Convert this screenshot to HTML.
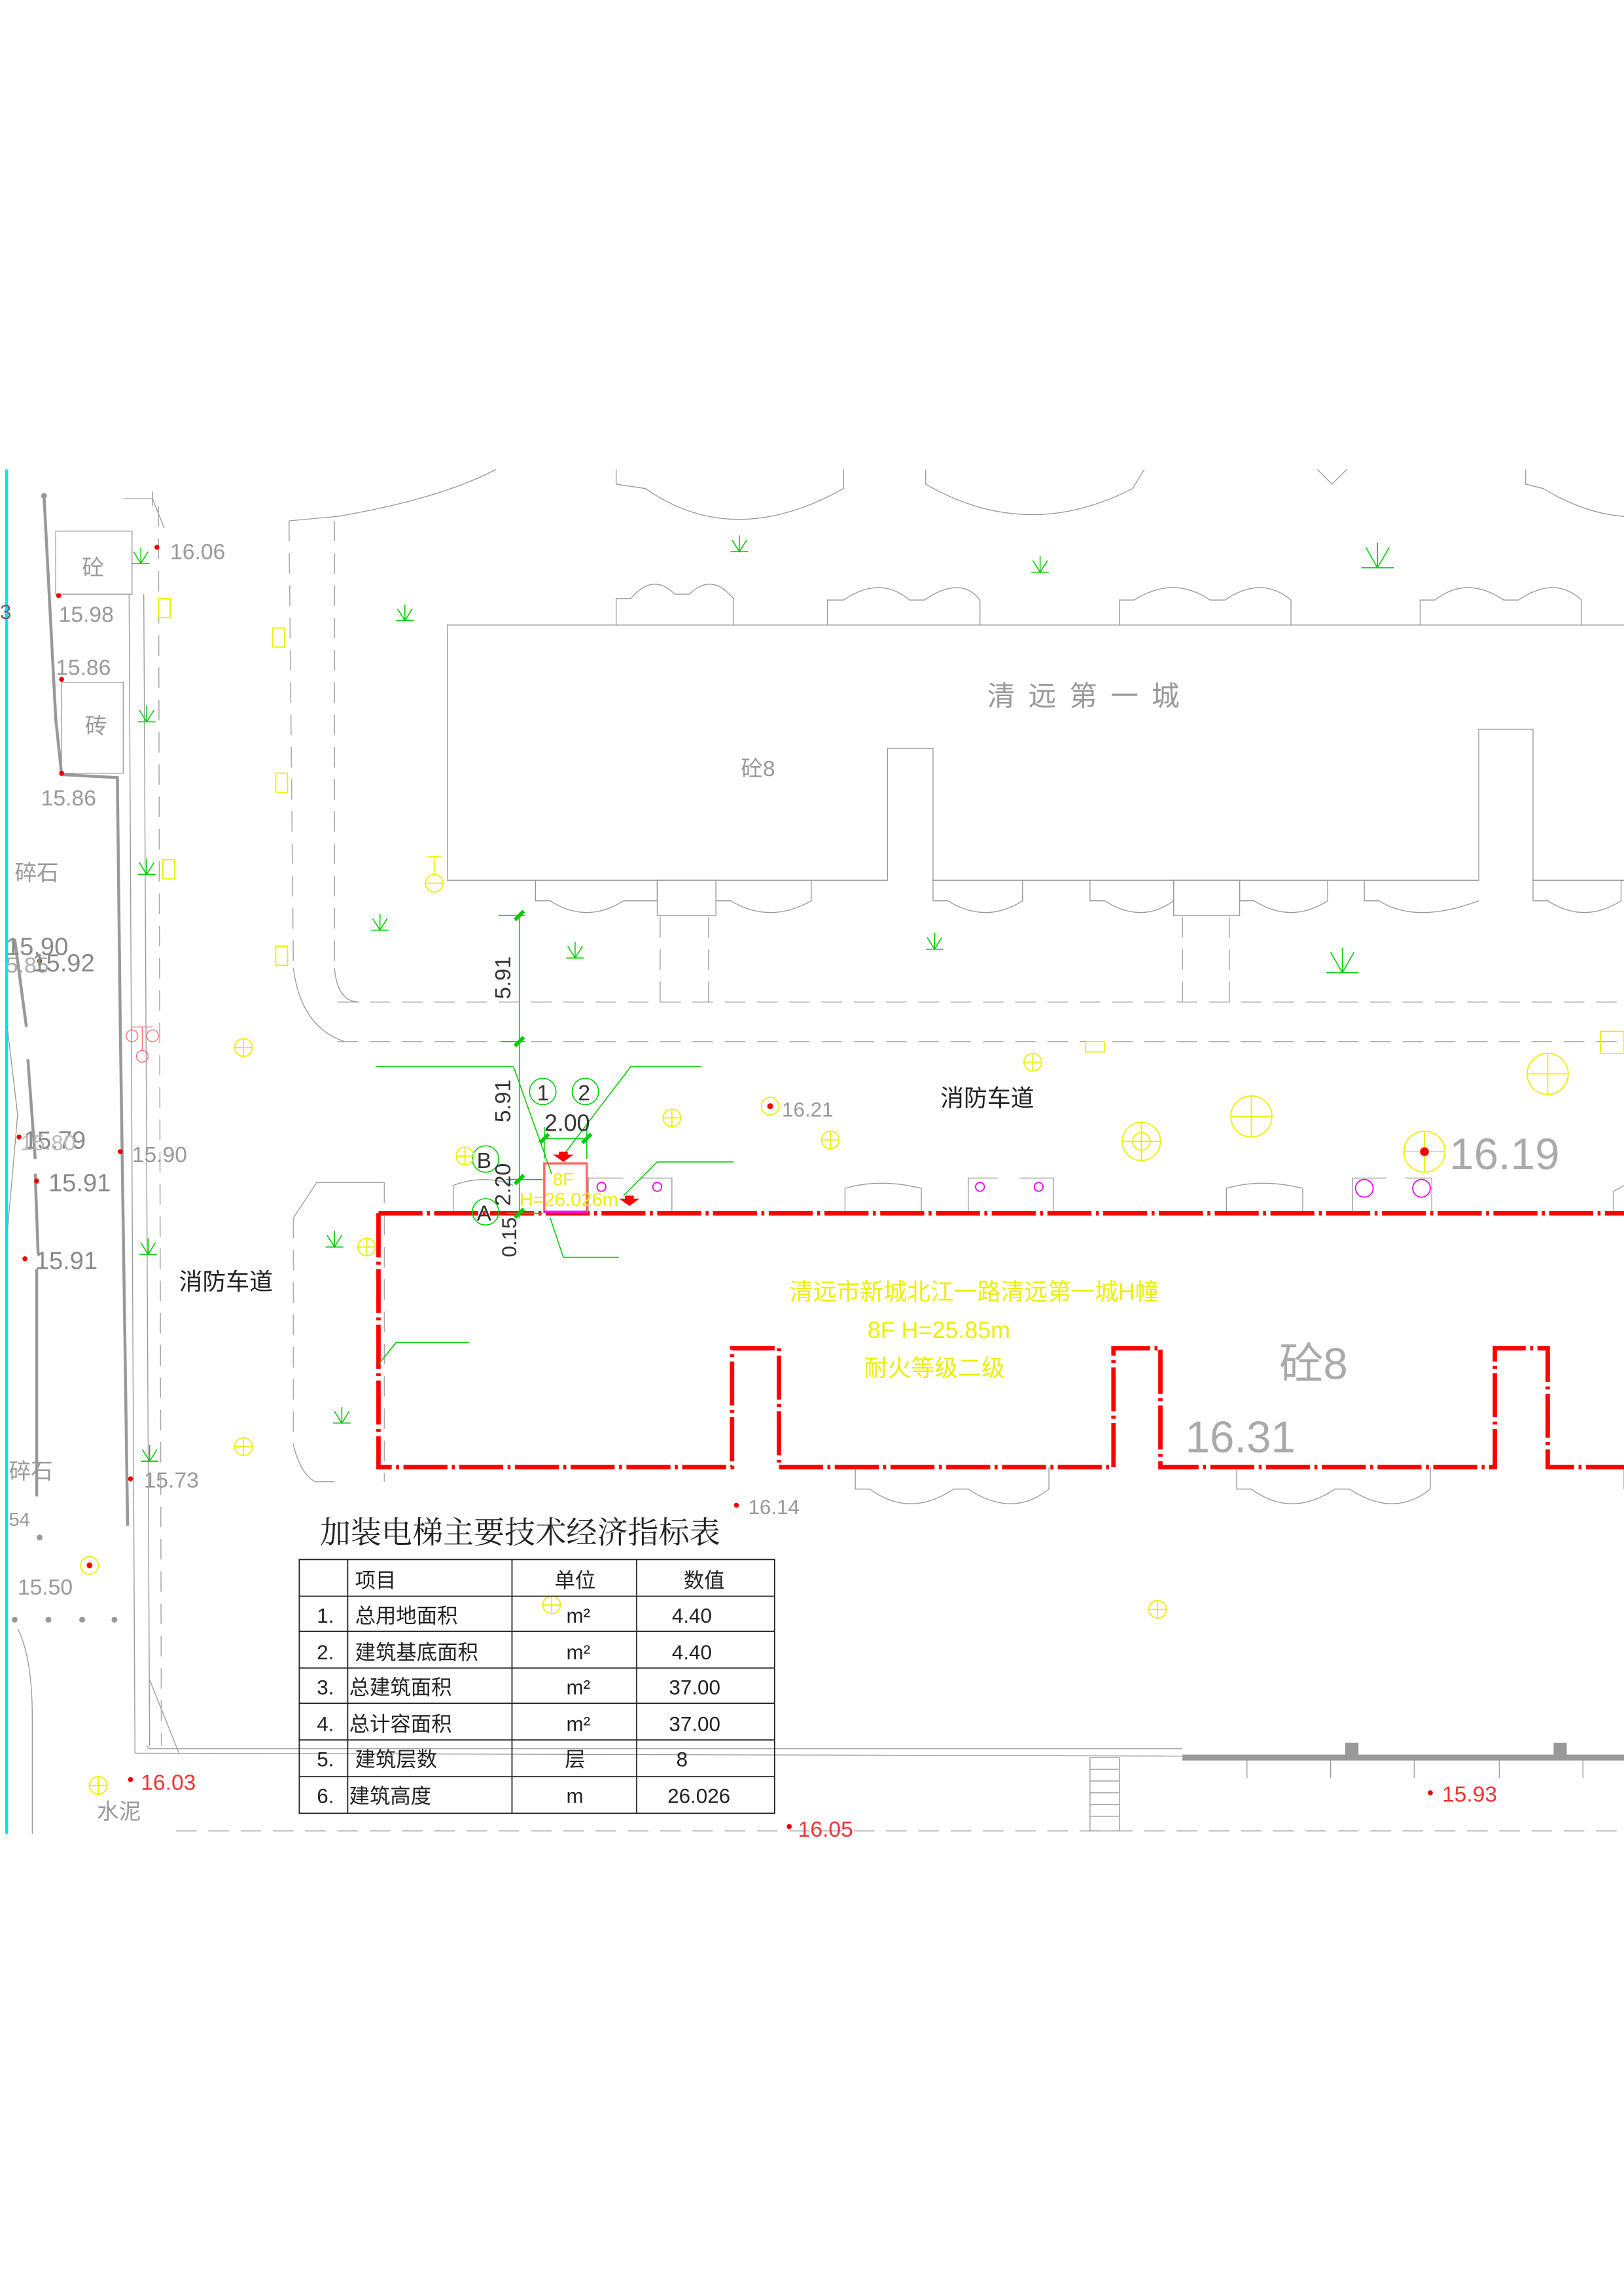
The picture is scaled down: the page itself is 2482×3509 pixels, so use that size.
<!DOCTYPE html>
<html><head><meta charset="utf-8"><style>
html,body{margin:0;padding:0;background:#fff;}
svg{display:block;}
text{font-family:"Liberation Sans","Noto Sans CJK SC",sans-serif;}
.cn{font-family:"Liberation Serif","Noto Serif CJK SC","Noto Sans CJK SC",serif;}
</style></head><body>
<svg width="2482" height="3509" viewBox="0 0 1107 1565" xmlns="http://www.w3.org/2000/svg">
<rect width="1107" height="1565" fill="#fff"/>
<!-- cyan line -->
<line x1="4.5" y1="320" x2="4.5" y2="1250" stroke="#00e5ee" stroke-width="2"/>
<text x="0" y="422" font-size="14" fill="#666">3</text>

<!-- left property lines thick gray -->
<g stroke="#999" stroke-width="2" fill="none">
<polyline points="30,338 38,490 42,528 80,530 82,700 87,1040"/>
<line x1="10" y1="640" x2="18" y2="700"/>
<line x1="19" y1="722" x2="24" y2="790"/>
<line x1="24" y1="800" x2="26" y2="855"/>
<line x1="25" y1="865" x2="25" y2="1020"/>
</g>
<circle cx="30" cy="338" r="2" fill="#999"/>
<g fill="#999"><circle cx="27" cy="1048" r="2"/><circle cx="10" cy="1104" r="2"/><circle cx="33" cy="1104" r="2"/><circle cx="56" cy="1104" r="2"/><circle cx="78" cy="1104" r="2"/></g>
<!-- thin gray lines left -->
<g stroke="#999" stroke-width="0.6" fill="none">
<rect x="38" y="362" width="52" height="43"/>
<rect x="42" y="465" width="42" height="62"/>
<line x1="88" y1="405" x2="92" y2="1195"/>
<line x1="98" y1="405" x2="102" y2="1190"/>
<polyline points="84,340 104,340 112,360"/>
<line x1="104" y1="335" x2="104" y2="345"/>
<polyline points="100,1190 102,1192 806,1192"/>
<polyline points="92,1195 806,1197"/>
<path d="M12,1110 Q22,1130 22,1170 L22,1250"/>
<path d="M5,700 L12,760 L5,840"/>
<line x1="102" y1="1145" x2="122" y2="1195"/>
</g>
<g stroke="#aaa" stroke-width="0.7" fill="none" stroke-dasharray="14,8">
<line x1="108" y1="345" x2="110" y2="1190"/>
<line x1="197" y1="355" x2="200" y2="660"/>
<line x1="228" y1="355" x2="228" y2="660"/>
<line x1="120" y1="1248" x2="1107" y2="1248"/>
<line x1="230" y1="683" x2="1107" y2="683"/>
<line x1="230" y1="710" x2="1107" y2="710"/>
<line x1="200" y1="830" x2="200" y2="985"/>
<line x1="262" y1="806" x2="262" y2="1010"/>
<line x1="450" y1="625" x2="450" y2="683"/>
<line x1="483" y1="625" x2="483" y2="683"/>
<line x1="806" y1="625" x2="806" y2="683"/>
<line x1="838" y1="625" x2="838" y2="683"/>
</g>
<g stroke="#999" stroke-width="0.6" fill="none">
<path d="M200,660 Q205,700 235,710"/>
<path d="M228,660 Q230,683 245,683"/>
<path d="M200,985 Q205,1005 215,1010 L228,1010"/>
<path d="M200,830 L216,806 L262,806"/>
<!-- top arcs -->
<path d="M197,355 L230,352 Q300,340 338,320"/>
<path d="M420,320 L420,330 L440,333 Q500,375 575,333 L575,320"/>
<path d="M631,320 L631,330 Q700,370 772,333 L780,320"/>
<path d="M898,320 L908,330 L918,320"/>
<path d="M1040,320 L1040,330 L1052,333 Q1080,350 1107,352"/>
<!-- top building -->
<polyline points="1107,426 305,426 305,600 605,600 605,510 636,510 636,600 1008,600 1008,497 1045,497 1045,600 1107,600"/>
<path d="M420,426 L420,408 L430,408 Q445,390 460,405 L470,405 Q485,390 500,408 L500,426"/>
<path d="M564,426 L564,409 L575,409 Q600,392 620,409 L630,409 Q655,392 668,409 L668,426"/>
<path d="M763,426 L763,409 L773,409 Q800,392 825,409 L835,409 Q860,392 880,409 L880,426"/>
<path d="M968,426 L968,409 L978,409 Q1000,392 1025,409 L1035,409 Q1060,392 1078,409 L1078,426"/>
<path d="M365,600 L365,614 L375,614 Q400,630 425,614 L448,614 L448,600"/>
<rect x="448" y="600" width="40" height="24"/>
<path d="M488,600 L488,614 L498,614 Q525,630 553,614 L553,600"/>
<path d="M636,600 L636,614 L646,614 Q672,630 697,614 L697,600"/>
<path d="M743,600 L743,614 L753,614 Q778,630 800,614 L800,600"/>
<rect x="800" y="600" width="45" height="24"/>
<path d="M845,600 L845,614 L855,614 Q880,630 905,614 L905,600"/>
<path d="M930,600 L930,614 L940,614 Q965,630 1008,614"/>
<path d="M1045,600 L1045,614 L1055,614 Q1080,630 1105,614 L1105,600"/>
<!-- small structures near red building -->
<path d="M309,827 L309,808 Q330,800 350,808"/>
<polyline points="401,827 401,803 425,803"/><polyline points="436,803 458,803 458,827"/>
<path d="M576,827 L576,810 Q600,803 628,810 L628,827"/>
<polyline points="660,827 660,803 680,803"/><polyline points="695,803 718,803 718,827"/>
<path d="M836,827 L836,810 Q860,803 888,810 L888,827"/>
<polyline points="922,827 922,803 945,803"/><polyline points="958,803 976,803 976,827"/>
<path d="M1100,827 L1100,812 L1107,808"/>
<path d="M583,1000 L583,1015 L593,1015 Q620,1035 650,1015 L660,1015 Q690,1035 715,1015 L715,1000"/>
<path d="M843,1000 L843,1015 L853,1015 Q880,1035 910,1015 L920,1015 Q950,1035 975,1015 L975,1000"/>
<line x1="1107" y1="1000" x2="1107" y2="1015"/>
<!-- stairs at bottom -->
<rect x="743" y="1198" width="20" height="50"/>
<line x1="743" y1="1206" x2="763" y2="1206"/><line x1="743" y1="1214" x2="763" y2="1214"/><line x1="743" y1="1222" x2="763" y2="1222"/><line x1="743" y1="1230" x2="763" y2="1230"/><line x1="743" y1="1238" x2="763" y2="1238"/>
<line x1="850" y1="1200" x2="850" y2="1212"/><line x1="907" y1="1200" x2="907" y2="1212"/><line x1="964" y1="1200" x2="964" y2="1212"/><line x1="1022" y1="1200" x2="1022" y2="1212"/><line x1="1079" y1="1200" x2="1079" y2="1212"/>
</g>
<line x1="806" y1="1198" x2="1107" y2="1198" stroke="#999" stroke-width="4"/>
<rect x="917" y="1188" width="9" height="10" fill="#999"/><rect x="1059" y="1188" width="9" height="10" fill="#999"/>

<!-- red building -->
<g stroke="#f00" stroke-width="3" fill="none" stroke-dasharray="30,3,2,3">
<polyline points="258,827 1107,827"/>
<polyline points="258,827 258,1000 499,1000 499,919 531,919 531,1000 759,1000 759,919 791,919 791,1000 1019,1000 1019,919 1055,919 1055,1000 1107,1000"/>
</g>

<!-- green dims -->
<g stroke="#0c0" stroke-width="0.7" fill="none">
<line x1="354" y1="624" x2="354" y2="830"/>
<line x1="340" y1="624" x2="358" y2="624"/><line x1="342" y1="710" x2="358" y2="710"/>
<line x1="256" y1="727" x2="350" y2="727"/><polyline points="350,727 376,800"/>
<polyline points="478,727 430,727 382,790"/>
<line x1="371" y1="768" x2="371" y2="790"/><line x1="400" y1="768" x2="400" y2="790"/>
<line x1="371" y1="776" x2="400" y2="776"/>
<line x1="345" y1="804" x2="370" y2="804"/><line x1="345" y1="827" x2="370" y2="827"/>
<polyline points="500,792 448,792 425,815"/>
<polyline points="375,830 384,857 422,857"/>
<polyline points="258,930 270,915 320,915"/>
<circle cx="370" cy="744" r="9"/><circle cx="399" cy="744" r="9"/>
<circle cx="331" cy="790" r="9"/><circle cx="331" cy="826" r="9"/>
</g>
<g stroke="#0c0" stroke-width="2.5"><line x1="351" y1="627" x2="357" y2="621"/><line x1="351" y1="713" x2="357" y2="707"/><line x1="351" y1="807" x2="357" y2="801"/><line x1="351" y1="830" x2="357" y2="824"/><line x1="368" y1="779" x2="374" y2="773"/><line x1="397" y1="779" x2="403" y2="773"/></g>
<g font-size="14" fill="#333" font-family="Liberation Serif,serif">
<text x="366" y="750" class="" font-family="Liberation Serif" font-size="15">1</text>
<text x="394" y="750" font-family="Liberation Serif" font-size="15">2</text>
<text x="325" y="796" font-family="Liberation Serif" font-size="15">B</text>
<text x="325" y="832" font-family="Liberation Serif" font-size="15">A</text>
<text x="371" y="771" font-family="Liberation Serif" font-size="16">2.00</text>
<text transform="translate(348,681) rotate(-90)" font-size="15">5.91</text>
<text transform="translate(348,765) rotate(-90)" font-size="15">5.91</text>
<text transform="translate(348,822) rotate(-90)" font-size="15">2.20</text>
<text transform="translate(352,857) rotate(-90)" font-size="14">0.15</text>
</g>
<!-- elevator -->
<rect x="371" y="793" width="29" height="33" fill="none" stroke="#f66" stroke-width="1.5"/>
<line x1="371" y1="826" x2="400" y2="826" stroke="#f0f" stroke-width="1.5"/>
<path d="M377,787 L391,787 L384,792Z M381,785 L387,785 L387,787 L381,787Z" fill="#f00"/>
<path d="M422,817 L436,817 L429,822Z M426,815 L432,815 L432,817 L426,817Z" fill="#f00"/>
<text x="377" y="808" font-size="12" fill="#ee0" font-family="Liberation Serif">8F</text>
<text x="354" y="822" font-size="13" fill="#ee0" font-family="Liberation Serif">H=26.026m</text>
<g stroke="#e0e" stroke-width="0.8" fill="none">
<circle cx="410" cy="809" r="3"/><circle cx="448" cy="809" r="3"/>
<circle cx="668" cy="809" r="3"/><circle cx="708" cy="809" r="3"/>
<circle cx="930" cy="810" r="6"/><circle cx="969" cy="810" r="6"/>
</g>

<!-- yellow symbols -->
<g stroke="#ee0" stroke-width="0.8" fill="none">
<circle cx="166" cy="714" r="6"/><path d="M160,714h12M166,708v12"/>
<circle cx="166" cy="986" r="6"/><path d="M160,986h12M166,980v12"/>
<circle cx="458" cy="762" r="6"/><path d="M452,762h12M458,756v12"/>
<circle cx="566" cy="777" r="6"/><path d="M560,777h12M566,771v12"/>
<circle cx="704" cy="724" r="6"/><path d="M698,724h12M704,718v12"/>
<circle cx="789" cy="1097" r="6"/><path d="M783,1097h12M789,1091v12"/>
<circle cx="376" cy="1094" r="6"/><path d="M370,1094h12M376,1088v12"/>
<circle cx="317" cy="788" r="6"/><path d="M311,788h12M317,782v12"/>
<circle cx="250" cy="850" r="6"/><path d="M244,850h12M250,844v12"/>
<circle cx="61" cy="1067" r="6"/><circle cx="67" cy="1217" r="6"/><path d="M61,1217h12M67,1211v12"/>
<circle cx="525" cy="754" r="6"/>
<circle cx="778" cy="778" r="13"/><circle cx="778" cy="778" r="6"/><path d="M765,778h26M778,765v26"/>
<circle cx="853" cy="761" r="14"/><path d="M839,761h28M853,747v28"/>
<circle cx="1055" cy="732" r="14"/><path d="M1041,732h28M1055,718v28"/>
<circle cx="971" cy="785" r="14"/><path d="M957,785h28M971,771v28"/>
<circle cx="296" cy="602" r="6"/><path d="M290,602h12M296,584v12M291,584h10"/>
<rect x="108" y="408" width="8" height="13"/><rect x="186" y="428" width="8" height="13"/><rect x="188" y="527" width="8" height="13"/><rect x="111" y="586" width="8" height="13"/><rect x="188" y="645" width="8" height="13"/>
<rect x="740" y="710" width="13" height="7"/><rect x="1091" y="703" width="16" height="15"/>
</g>
<circle cx="971" cy="785" r="3" fill="#f00"/><circle cx="525" cy="754" r="2" fill="#f00"/><circle cx="61" cy="1067" r="2" fill="#f00"/>
<!-- red pins -->
<g stroke="#f66" stroke-width="0.6" fill="none"><circle cx="90" cy="706" r="4"/><circle cx="104" cy="706" r="4"/><circle cx="97" cy="720" r="4"/><path d="M97,700v16M90,700h14"/></g>
<g fill="#e00"><circle cx="107" cy="373" r="1.7"/><circle cx="40" cy="406" r="1.7"/><circle cx="42" cy="463" r="1.7"/><circle cx="42" cy="527" r="1.7"/><circle cx="13" cy="775" r="1.7"/><circle cx="82" cy="785" r="1.7"/><circle cx="25" cy="805" r="1.7"/><circle cx="17" cy="858" r="1.7"/><circle cx="89" cy="1008" r="1.7"/><circle cx="89" cy="1213" r="1.7"/><circle cx="502" cy="1026" r="1.7"/><circle cx="975" cy="1222" r="1.7"/><circle cx="538" cy="1245" r="1.7"/><circle cx="27" cy="655" r="1.7"/></g>

<!-- green grass -->
<g stroke="#0c0" stroke-width="0.7" fill="none">
<path d="M90,384h12M96,373v11M91,376l5,8l5,-8"/>
<path d="M94,492h12M100,481v11M95,484l5,8l5,-8"/>
<path d="M94,596h12M100,585v11M95,588l5,8l5,-8"/>
<path d="M95,855h12M101,844v11M96,847l5,8l5,-8"/>
<path d="M96,996h12M102,985v11M97,988l5,8l5,-8"/>
<path d="M270,423h12M276,412v11M271,415l5,8l5,-8"/>
<path d="M498,376h12M504,365v11M499,368l5,8l5,-8"/>
<path d="M703,390h12M709,379v11M704,382l5,8l5,-8"/>
<path d="M928,387h22M939,370v17M931,373l8,14l8,-14"/>
<path d="M253,634h12M259,623v11M254,626l5,8l5,-8"/>
<path d="M386,653h12M392,642v11M387,645l5,8l5,-8"/>
<path d="M631,647h12M637,636v11M632,639l5,8l5,-8"/>
<path d="M904,663h22M915,646v17M907,649l8,14l8,-14"/>
<path d="M222,850h12M228,839v11M223,842l5,8l5,-8"/>
<path d="M227,970h12M233,959v11M228,962l5,8l5,-8"/>
</g>

<!-- gray labels -->
<g fill="#999" font-size="15">
<text x="116" y="381">16.06</text>
<text x="40" y="424">15.98</text>
<text x="38" y="460">15.86</text>
<text x="28" y="549">15.86</text>
<text x="90" y="792">15.90</text>
<text x="98" y="1014">15.73</text>
<text x="12" y="1087">15.50</text>
<text x="6" y="1040" font-size="13">54</text>
<text x="510" y="1032" font-size="14">16.14</text>
<text x="533" y="761" font-size="14">16.21</text>
<text x="988" y="797" font-size="30" fill="#aaa">16.19</text>
<text x="808" y="990" font-size="30" fill="#aaa">16.31</text>
</g>
<g fill="#888" font-size="17" font-weight="normal">
<text x="4" y="651">15.90</text><text x="4" y="663" font-size="15" fill="#aaa">5.85</text><text x="22" y="662">15.92</text>
<text x="16" y="783">15.79</text><text x="14" y="784" fill="#bbb" font-size="15">15.80</text>
<text x="33" y="812">15.91</text>
<text x="24" y="865">15.91</text>
</g>
<g fill="#e33" font-size="15"><text x="96" y="1220">16.03</text><text x="983" y="1228">15.93</text><text x="544" y="1252">16.05</text></g>
<g class="cn" fill="#999" font-size="15">
<text x="56" y="392">砼</text><text x="58" y="500">砖</text>
<text x="10" y="600">碎石</text><text x="6" y="1008">碎石</text>
<text x="66" y="1240">水泥</text>
<text x="505" y="529">砼8</text>
<text x="673" y="481" font-size="19" letter-spacing="9">清远第一城</text>
<text x="872" y="940" font-size="30" fill="#aaa">砼8</text>
</g>
<g class="cn" fill="#222" font-size="16">
<text x="641" y="754">消防车道</text><text x="122" y="879">消防车道</text>
</g>
<g class="cn" fill="#ee0" font-size="16" text-anchor="middle">
<text x="664" y="886">清远市新城北江一路清远第一城H幢</text>
<text x="640" y="912" font-family="Liberation Serif">8F H=25.85m</text>
<text x="637" y="938">耐火等级二级</text>
</g>

<!-- table -->
<text x="218" y="1052" class="cn" font-size="21" fill="#222">加装电梯主要技术经济指标表</text>
<g stroke="#222" stroke-width="0.8" fill="none">
<rect x="204" y="1063" width="324" height="173"/>
<line x1="204" y1="1088" x2="528" y2="1088"/><line x1="204" y1="1112" x2="528" y2="1112"/><line x1="204" y1="1137" x2="528" y2="1137"/><line x1="204" y1="1161" x2="528" y2="1161"/><line x1="204" y1="1186" x2="528" y2="1186"/><line x1="204" y1="1211" x2="528" y2="1211"/>
<line x1="237" y1="1063" x2="237" y2="1236"/><line x1="349" y1="1063" x2="349" y2="1236"/><line x1="434" y1="1063" x2="434" y2="1236"/>
</g>
<g class="cn" fill="#222" font-size="14">
<text x="242" y="1082">项目</text><text x="378" y="1082">单位</text><text x="466" y="1082">数值</text>
<text x="216" y="1106">1.</text><text x="242" y="1106">总用地面积</text><text x="386" y="1106">m²</text><text x="458" y="1106">4.40</text>
<text x="216" y="1131">2.</text><text x="242" y="1131">建筑基底面积</text><text x="386" y="1131">m²</text><text x="458" y="1131">4.40</text>
<text x="216" y="1155">3.</text><text x="238" y="1155">总建筑面积</text><text x="386" y="1155">m²</text><text x="456" y="1155">37.00</text>
<text x="216" y="1180">4.</text><text x="238" y="1180">总计容面积</text><text x="386" y="1180">m²</text><text x="456" y="1180">37.00</text>
<text x="216" y="1204">5.</text><text x="242" y="1204">建筑层数</text><text x="385" y="1204">层</text><text x="461" y="1204">8</text>
<text x="216" y="1229">6.</text><text x="238" y="1229">建筑高度</text><text x="386" y="1229">m</text><text x="455" y="1229">26.026</text>
</g>
</svg>
</body></html>
